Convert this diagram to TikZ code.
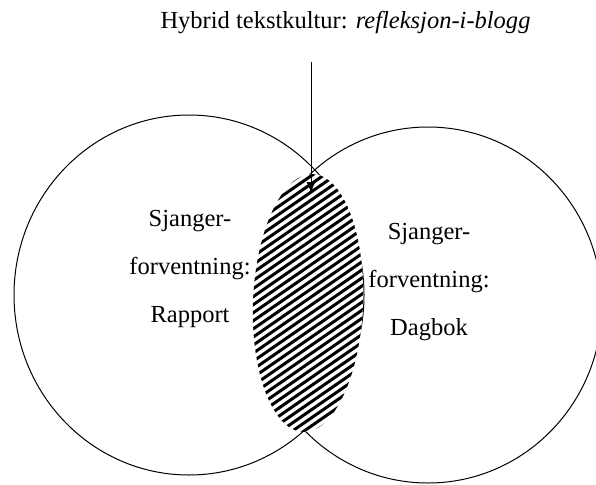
\documentclass[tikz,border=0pt]{standalone}
\usepackage{fontspec}
\setmainfont{Liberation Serif}
\usetikzlibrary{positioning}
\usetikzlibrary{arrows.meta}

\tikzset{
    label text/.style={align=center, font=\fontsize{24.5}{48}\selectfont, inner sep=0pt},
    ring/.style={line width=1pt},
    stripe/.style={line width=3pt}
}

\begin{document}
\begin{tikzpicture}[x=1pt, y=-1pt]
            \useasboundingbox (0,0) rectangle (596,484);

            \draw[ring] (189,295) ellipse [x radius=175, y radius=180];
            \draw[ring] (428,305) ellipse [x radius=174, y radius=178];

            % hatched overlap
            \begin{scope}[rotate around={-2.2:(308,303)}]
                \fill[white] (308,303) ellipse [x radius=55, y radius=129];
                \clip (308,303) ellipse [x radius=55, y radius=129];
                \foreach \k in {0,...,50}
                    \draw[stripe] (230,150+8.3*\k) -- (390,30+8.3*\k);
            \end{scope}

            \node (hybrid) at (345.5,29) [anchor=base, label text]{Hybrid tekstkultur: \textit{refleksjon-i-blogg}};
            \node (rapport) at (190,269) [label text]{Sjanger-\\forventning:\\Rapport};
            \node (dagbok) at (429,282) [label text]{Sjanger-\\forventning:\\Dagbok};

            \coordinate (arrowtop) at (311,62);
            \coordinate (overlap) at (311,193);
            \draw[-{Latex[length=11pt, width=9pt]}, line width=0.9pt] (arrowtop) -- (overlap);

        \end{tikzpicture}
\end{document}
